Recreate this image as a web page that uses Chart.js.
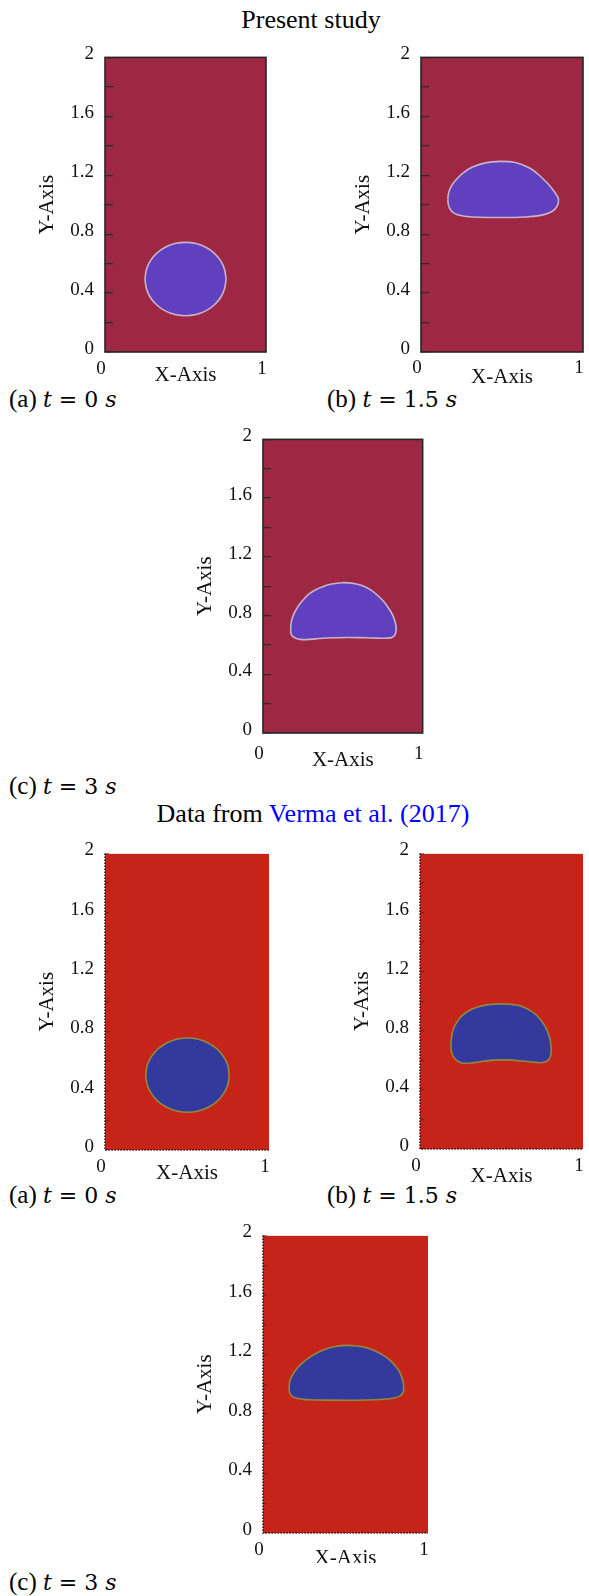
<!DOCTYPE html>
<html><head><meta charset="utf-8">
<script src="https://cdn.jsdelivr.net/npm/chart.js@4.4.1/dist/chart.umd.min.js"></script>
<style>
html,body{margin:0;padding:0;background:#fff;width:589px;height:1596px;overflow:hidden;position:relative}
.t{position:absolute;font-family:"Liberation Serif","Times New Roman",serif;color:#000;white-space:nowrap;line-height:1}
.m{font-family:"DejaVu Serif",serif;font-size:22px}
.wrap{position:absolute;overflow:hidden}
</style></head><body>
<div class="t" style="left:311px;top:6.5px;font-size:26px;transform:translateX(-50%)">Present study</div>
<div class="t" style="left:9px;top:386px;font-size:25px">(a) <span class="m"><i>t</i> = 0 <i>s</i></span></div>
<div class="t" style="left:327px;top:386px;font-size:25px">(b) <span class="m"><i>t</i> = 1.5 <i>s</i></span></div>
<div class="t" style="left:9px;top:772.5px;font-size:25px">(c) <span class="m"><i>t</i> = 3 <i>s</i></span></div>
<div class="t" style="left:313px;top:800.7px;font-size:26px;transform:translateX(-50%)">Data from <span style="color:#0000ff">Verma et al. (2017)</span></div>
<div class="t" style="left:9px;top:1182px;font-size:25px">(a) <span class="m"><i>t</i> = 0 <i>s</i></span></div>
<div class="t" style="left:327px;top:1182px;font-size:25px">(b) <span class="m"><i>t</i> = 1.5 <i>s</i></span></div>
<div class="t" style="left:9px;top:1569px;font-size:25px">(c) <span class="m"><i>t</i> = 3 <i>s</i></span></div>
<script>
// ---- axis ticks ----
const xTickValues = [0, 1];
const xTickLabels = ['0', '1'];
const yTickValues = [0, 0.4, 0.8, 1.2, 1.6, 2];
const yTickLabels = ['0', '0.4', '0.8', '1.2', '1.6', '2'];
const domainTop = [[0, 2], [1, 2]];

// ---- Present study: interface outlines (x, y) ----
const presentA_upper = [[0.248,0.495],[0.257,0.559],[0.282,0.620],[0.322,0.671],[0.374,0.711],[0.435,0.736],[0.500,0.744],[0.565,0.736],[0.626,0.711],[0.678,0.671],[0.718,0.620],[0.743,0.559],[0.752,0.495]];
const presentA_lower = [[0.248,0.495],[0.257,0.431],[0.282,0.370],[0.322,0.319],[0.374,0.279],[0.435,0.254],[0.500,0.246],[0.565,0.254],[0.626,0.279],[0.678,0.319],[0.718,0.370],[0.743,0.431],[0.752,0.495]];
const presentB_upper = [[0.166,1.035],[0.168,1.065],[0.176,1.100],[0.195,1.140],[0.225,1.180],[0.265,1.220],[0.315,1.254],[0.397,1.284],[0.490,1.294],[0.582,1.286],[0.664,1.252],[0.730,1.200],[0.785,1.140],[0.822,1.090],[0.843,1.055],[0.850,1.030]];
const presentB_lower = [[0.166,1.035],[0.168,1.005],[0.177,0.975],[0.195,0.950],[0.225,0.932],[0.270,0.922],[0.356,0.915],[0.500,0.913],[0.644,0.917],[0.730,0.926],[0.785,0.942],[0.822,0.965],[0.843,0.995],[0.850,1.030]];
const presentC_upper = [[0.173,0.700],[0.175,0.740],[0.181,0.775],[0.193,0.810],[0.210,0.845],[0.229,0.877],[0.258,0.915],[0.291,0.949],[0.330,0.976],[0.373,0.997],[0.430,1.015],[0.496,1.024],[0.560,1.020],[0.620,1.005],[0.670,0.978],[0.715,0.940],[0.755,0.897],[0.790,0.845],[0.814,0.800],[0.828,0.755],[0.834,0.715]];
const presentC_lower = [[0.173,0.700],[0.176,0.675],[0.186,0.658],[0.205,0.646],[0.235,0.638],[0.271,0.636],[0.330,0.641],[0.394,0.647],[0.537,0.651],[0.640,0.649],[0.720,0.646],[0.783,0.646],[0.810,0.652],[0.826,0.668],[0.833,0.690],[0.834,0.715]];

// ---- Verma et al. (2017): interface outlines (x, y) ----
const vermaA_upper = [[0.248,0.505],[0.257,0.570],[0.283,0.630],[0.323,0.682],[0.376,0.722],[0.437,0.747],[0.503,0.755],[0.569,0.747],[0.630,0.722],[0.683,0.682],[0.723,0.630],[0.749,0.570],[0.757,0.505]];
const vermaA_lower = [[0.248,0.505],[0.257,0.440],[0.283,0.380],[0.323,0.328],[0.376,0.288],[0.437,0.263],[0.503,0.255],[0.569,0.263],[0.630,0.288],[0.683,0.328],[0.723,0.380],[0.749,0.440],[0.757,0.505]];
const vermaB_upper = [[0.190,0.700],[0.192,0.740],[0.197,0.780],[0.206,0.815],[0.222,0.850],[0.245,0.888],[0.278,0.920],[0.317,0.945],[0.360,0.963],[0.408,0.975],[0.500,0.982],[0.592,0.974],[0.640,0.958],[0.680,0.935],[0.715,0.905],[0.745,0.866],[0.770,0.825],[0.788,0.780],[0.800,0.730],[0.806,0.670]];
const vermaB_lower = [[0.190,0.700],[0.192,0.665],[0.200,0.635],[0.213,0.612],[0.230,0.595],[0.252,0.584],[0.276,0.580],[0.310,0.582],[0.347,0.587],[0.400,0.595],[0.449,0.601],[0.531,0.603],[0.633,0.595],[0.700,0.587],[0.740,0.584],[0.770,0.590],[0.790,0.605],[0.801,0.630],[0.806,0.670]];
const vermaC_upper = [[0.158,0.975],[0.160,1.005],[0.165,1.030],[0.175,1.055],[0.192,1.085],[0.215,1.118],[0.248,1.152],[0.286,1.184],[0.335,1.215],[0.386,1.239],[0.445,1.255],[0.507,1.261],[0.570,1.257],[0.628,1.245],[0.680,1.223],[0.728,1.195],[0.770,1.160],[0.804,1.120],[0.828,1.082],[0.843,1.040],[0.851,1.005],[0.853,0.975]];
const vermaC_lower = [[0.158,0.975],[0.160,0.950],[0.168,0.930],[0.182,0.915],[0.205,0.905],[0.240,0.898],[0.286,0.895],[0.400,0.893],[0.507,0.892],[0.620,0.894],[0.728,0.899],[0.790,0.906],[0.825,0.918],[0.843,0.935],[0.851,0.953],[0.853,0.975]];

// ---- layout & styles ----
const themes = {
  present: {bg:'#9E2844', blob:'#6140C0', edge:'#C9B3CB', frame:'solid', frameColor:'#262626', tick:'#2b2b2b', tl:-8},
  verma:   {bg:'#C72419', blob:'#343A9D', edge:'#8F8A3E', frame:'dotted', frameColor:'#3a1414', tick:'rgba(70,20,20,0.5)', tl:-4}
};
const panels = [
  {up:presentA_upper, lo:presentA_lower, theme:'present', L:105, R:266, T:47,  B:352,  xl:17, xt:23},
  {up:presentB_upper, lo:presentB_lower, theme:'present', L:421, R:583, T:47,  B:352,  xl:16, xt:25},
  {up:presentC_upper, lo:presentC_lower, theme:'present', L:263, R:425, T:429, B:733,  xl:21, xt:27},
  {up:vermaA_upper,   lo:vermaA_lower,   theme:'verma',   L:105, R:269, T:847, B:1150, xl:17, xt:23},
  {up:vermaB_upper,   lo:vermaB_lower,   theme:'verma',   L:420, R:583, T:847, B:1149, xl:17, xt:27},
  {up:vermaC_upper,   lo:vermaC_lower,   theme:'verma',   L:263, R:428, T:1229, B:1533, xl:17, xt:25, clip:1563}
];

const pts = arr => arr.map(([x, y]) => ({x, y}));
const serif = 'Liberation Serif';
const tickSize = 19, titleSize = 21;

const framePlugin = {
  id: 'frame',
  afterDraw(chart, args, opts) {
    const {ctx, chartArea: a} = chart;
    ctx.save();
    ctx.strokeStyle = opts.color;
    ctx.lineWidth = opts.width;
    if (opts.mode === 'solid') {
      ctx.strokeRect(a.left, a.top, a.right - a.left, a.bottom - a.top);
    } else {
      ctx.setLineDash([1.5, 1.5]);
      ctx.beginPath();
      ctx.moveTo(a.left, a.top);
      ctx.lineTo(a.left, a.bottom);
      ctx.lineTo(a.right, a.bottom);
      ctx.stroke();
    }
    ctx.restore();
  }
};

panels.forEach(p => {
  const th = themes[p.theme];
  const padL = 80, padT = 20, padR = 12, padB = 50;
  const w = (p.R - p.L) + padL + padR;
  const h = (p.B - p.T) + padT + padB;
  const wrap = document.createElement('div');
  wrap.className = 'wrap';
  wrap.style.left = (p.L - padL) + 'px';
  wrap.style.top = (p.T - padT) + 'px';
  wrap.style.width = w + 'px';
  wrap.style.height = (p.clip ? p.clip - (p.T - padT) : h) + 'px';
  const c = document.createElement('canvas');
  c.width = w; c.height = h;
  c.style.width = w + 'px'; c.style.height = h + 'px'; c.style.display = 'block';
  wrap.appendChild(c);
  document.body.appendChild(wrap);

  new Chart(c, {
    type: 'scatter',
    data: {datasets: [
      {data: pts(p.up), showLine: true, fill: '+1', backgroundColor: th.blob, borderColor: th.edge, borderWidth: 1.6, tension: 0.3, pointRadius: 0, order: 0},
      {data: pts(p.lo), showLine: true, fill: false, borderColor: th.edge, borderWidth: 1.6, tension: 0.3, pointRadius: 0, order: 1},
      {data: pts(domainTop), showLine: true, fill: 'start', backgroundColor: th.bg, borderColor: th.bg, borderWidth: 0, pointRadius: 0, order: 10}
    ]},
    options: {
      responsive: false, animation: false, devicePixelRatio: 1,
      events: [],
      layout: {padding: {left: 0, top: padT, right: padR, bottom: 0}},
      plugins: {
        legend: {display: false}, tooltip: {enabled: false},
        filler: {drawTime: 'beforeDatasetsDraw'},
        frame: {mode: th.frame, color: th.frameColor, width: 1.6}
      },
      scales: {
        x: {
          type: 'linear', min: 0, max: 1,
          ticks: {stepSize: 1, autoSkip: false, maxRotation: 0,
            callback: v => { const i = xTickValues.findIndex(t => Math.abs(t - v) < 1e-6); return i >= 0 ? xTickLabels[i] : ''; },
            font: {family: serif, size: tickSize}, color: '#111', padding: p.xl - tickSize * 0.6, labelOffset: -4},
          grid: {display: false, drawTicks: false},
          border: {display: false},
          title: {display: true, text: 'X-Axis', font: {family: serif, size: titleSize}, color: '#111',
            padding: {top: 0, bottom: padB - p.xt - titleSize * 0.6}},
          afterFit: s => { s.height = padB; }
        },
        y: {
          type: 'linear', min: 0, max: 2,
          ticks: {stepSize: 0.2, autoSkip: false,
            callback: v => { const i = yTickValues.findIndex(t => Math.abs(t - v) < 1e-6); return i >= 0 ? yTickLabels[i] : ''; },
            font: {family: serif, size: tickSize}, color: '#111', padding: 11 - th.tl, labelOffset: -3},
          grid: {display: true, drawOnChartArea: false, drawTicks: true, tickLength: th.tl, color: th.tick, lineWidth: 1.3, z: 1},
          border: {display: false},
          title: {display: true, text: 'Y-Axis', font: {family: serif, size: titleSize}, color: '#111',
            padding: {top: 22 - titleSize * 0.6, bottom: 0}},
          afterFit: s => { s.width = padL; }
        }
      }
    },
    plugins: [framePlugin]
  });
});
</script>
</body></html>
